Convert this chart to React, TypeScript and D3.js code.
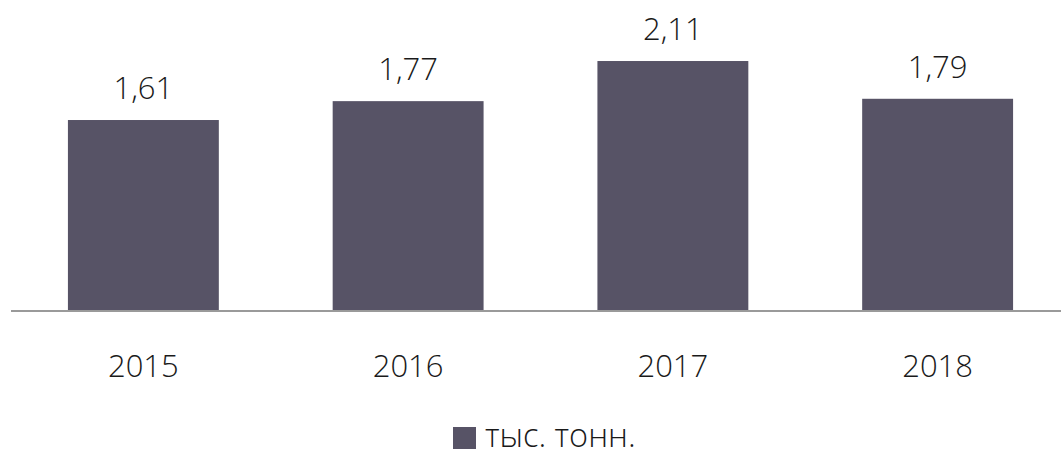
import React from "react";
import * as d3 from "d3";

const categories = ["2015", "2016", "2017", "2018"];
const values = [1.61, 1.77, 2.11, 1.79];
const valueLabels = ["1,61", "1,77", "2,11", "1,79"];
const seriesName = "тыс. тонн.";

export default function App() {
  const W = 1061;
  const H = 452;
  const x = d3.scaleBand<string>().domain(categories).range([11, 1070]).paddingInner(0.43).paddingOuter(0.215);
  const y = d3.scaleLinear().domain([0, 2.5]).range([310, 15]);
  const font = "'Open Sans', sans-serif";
  const color = "#575366";
  return (
    <svg width={W} height={H} style={{ position: "absolute", left: 0, top: 0 }}>
      {categories.map((c, i) => (
        <g key={c}>
          <rect x={x(c)} y={y(values[i])} width={x.bandwidth()} height={y(0) - y(values[i])} fill={color} />
          <text
            x={(x(c) as number) + x.bandwidth() / 2}
            y={y(values[i]) - 21}
            textAnchor="middle"
            fontFamily={font}
            fontWeight={300}
            fontSize={31}
            fill="#1a1a1a"
          >
            {valueLabels[i]}
          </text>
          <text
            x={(x(c) as number) + x.bandwidth() / 2}
            y={377}
            textAnchor="middle"
            fontFamily={font}
            fontWeight={300}
            fontSize={31}
            fill="#1a1a1a"
          >
            {c}
          </text>
        </g>
      ))}
      <line x1={11} x2={W} y1={y(0) + 1} y2={y(0) + 1} stroke="#9a9a9a" strokeWidth={2} />
      <rect x={453} y={427} width={23} height={22} fill={color} />
      <text x={485} y={447} fontFamily={font} fontWeight={300} fontSize={32.5} fill="#1a1a1a">
        {seriesName}
      </text>
    </svg>
  );
}
